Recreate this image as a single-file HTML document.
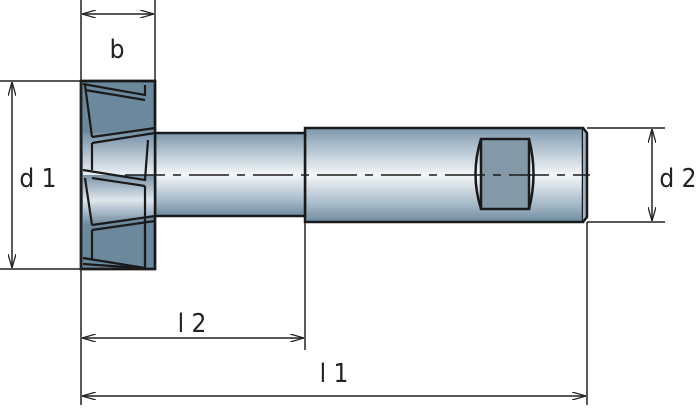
<!DOCTYPE html>
<html><head><meta charset="utf-8"><style>
html,body{margin:0;padding:0;background:#fff}
svg{display:block}
text{font-family:"DejaVu Sans Condensed","DejaVu Sans","Liberation Sans",sans-serif;fill:#222;font-weight:300}
</style></head><body>
<svg width="700" height="410" viewBox="0 0 700 410" xmlns="http://www.w3.org/2000/svg">
<defs>
<linearGradient id="cyl" x1="0" y1="0" x2="0" y2="1">
<stop offset="0" stop-color="#7e98ac"/>
<stop offset="0.2" stop-color="#aebfcc"/>
<stop offset="0.5" stop-color="#f4f7f9"/>
<stop offset="0.8" stop-color="#a9bccb"/>
<stop offset="1" stop-color="#6f8ba0"/>
</linearGradient>
<linearGradient id="tooth" x1="0" y1="0" x2="0" y2="1">
<stop offset="0" stop-color="#6e8aa0"/>
<stop offset="0.5" stop-color="#e6edf2"/>
<stop offset="1" stop-color="#6e8aa0"/>
</linearGradient>
<marker id="a" markerWidth="14" markerHeight="8" refX="14" refY="4" orient="auto" markerUnits="userSpaceOnUse">
<path d="M0,0 L14,4 L0,8" fill="none" stroke="#222" stroke-width="1.3"/>
</marker>
<marker id="s" markerWidth="14" markerHeight="8" refX="0" refY="4" orient="auto" markerUnits="userSpaceOnUse">
<path d="M14,0 L0,4 L14,8" fill="none" stroke="#222" stroke-width="1.3"/>
</marker>
</defs>
<rect x="305" y="128" width="278" height="94" fill="url(#cyl)" stroke="#1a1a1a" stroke-width="2.5"/>
<path d="M583,128 L587,133 L587,217 L583,222" fill="#9fb3c2" stroke="#1a1a1a" stroke-width="2.5"/>
<rect x="481" y="139" width="48" height="70" fill="#8499a8" stroke="#1a1a1a" stroke-width="2.5"/>
<path d="M481,139 Q470,174 481,209 M529,139 Q538,174 529,209" fill="none" stroke="#1a1a1a" stroke-width="2.5"/>
<rect x="155" y="133" width="150" height="83" fill="url(#cyl)" stroke="#1a1a1a" stroke-width="2.5"/>
<rect x="81" y="81" width="74" height="188" fill="#6c889d" stroke="#1a1a1a" stroke-width="2.5"/>
<path d="M83,133 L155,130 L155,216 L83,216 Z" fill="url(#tooth)"/>
<path d="M83,175 L155,175 L155,216 L83,225 Z" fill="url(#tooth)" opacity="0.9"/>
<g stroke="#1a1a1a" stroke-width="2.2" fill="none">
<path d="M83,84 L145,95 L145,85"/><path d="M85,90 L145,100"/>
<path d="M92,137 L155,128"/><path d="M92,143 L155,133"/>
<path d="M85,85 L92,137"/><path d="M92,143 L92,170"/>
<path d="M83,170 L145,180 L148,140"/>
<path d="M92,178 L145,186"/>
<path d="M92,225 L155,216"/><path d="M92,230 L155,221"/>
<path d="M85,178 L92,225"/><path d="M92,230 L92,260"/>
<path d="M83,258 L145,268 L145,225"/><path d="M83,264 L140,268"/>
<path d="M145,186 L145,265"/>
</g>
<rect x="81" y="81" width="74" height="188" fill="none" stroke="#1a1a1a" stroke-width="2.5"/>
<line x1="125" y1="175" x2="590" y2="175" stroke="#1a1a1a" stroke-width="1.6" stroke-dasharray="40,8,8,8"/>
<g stroke="#222" stroke-width="1.5" fill="none">
<line x1="81" y1="0" x2="81" y2="405"/>
<line x1="155" y1="0" x2="155" y2="81"/>
<line x1="82" y1="14" x2="154" y2="14" marker-start="url(#s)" marker-end="url(#a)"/>
<line x1="0" y1="81" x2="81" y2="81"/>
<line x1="0" y1="269" x2="81" y2="269"/>
<line x1="12" y1="82" x2="12" y2="268" marker-start="url(#s)" marker-end="url(#a)"/>
<line x1="587" y1="128" x2="665" y2="128"/>
<line x1="587" y1="222" x2="665" y2="222"/>
<line x1="652" y1="129" x2="652" y2="221" marker-start="url(#s)" marker-end="url(#a)"/>
<line x1="305" y1="222" x2="305" y2="350"/>
<line x1="587" y1="222" x2="587" y2="405"/>
<line x1="82" y1="338" x2="304" y2="338" marker-start="url(#s)" marker-end="url(#a)"/>
<line x1="82" y1="396" x2="586" y2="396" marker-start="url(#s)" marker-end="url(#a)"/>
</g>
<text x="117" y="58" font-size="26" text-anchor="middle">b</text>
<text x="38" y="187" font-size="26" text-anchor="middle">d 1</text>
<text x="678" y="187" font-size="26" text-anchor="middle">d 2</text>
<text x="192" y="332" font-size="26" text-anchor="middle">l 2</text>
<text x="334" y="382" font-size="26" text-anchor="middle">l 1</text>
</svg>
</body></html>
